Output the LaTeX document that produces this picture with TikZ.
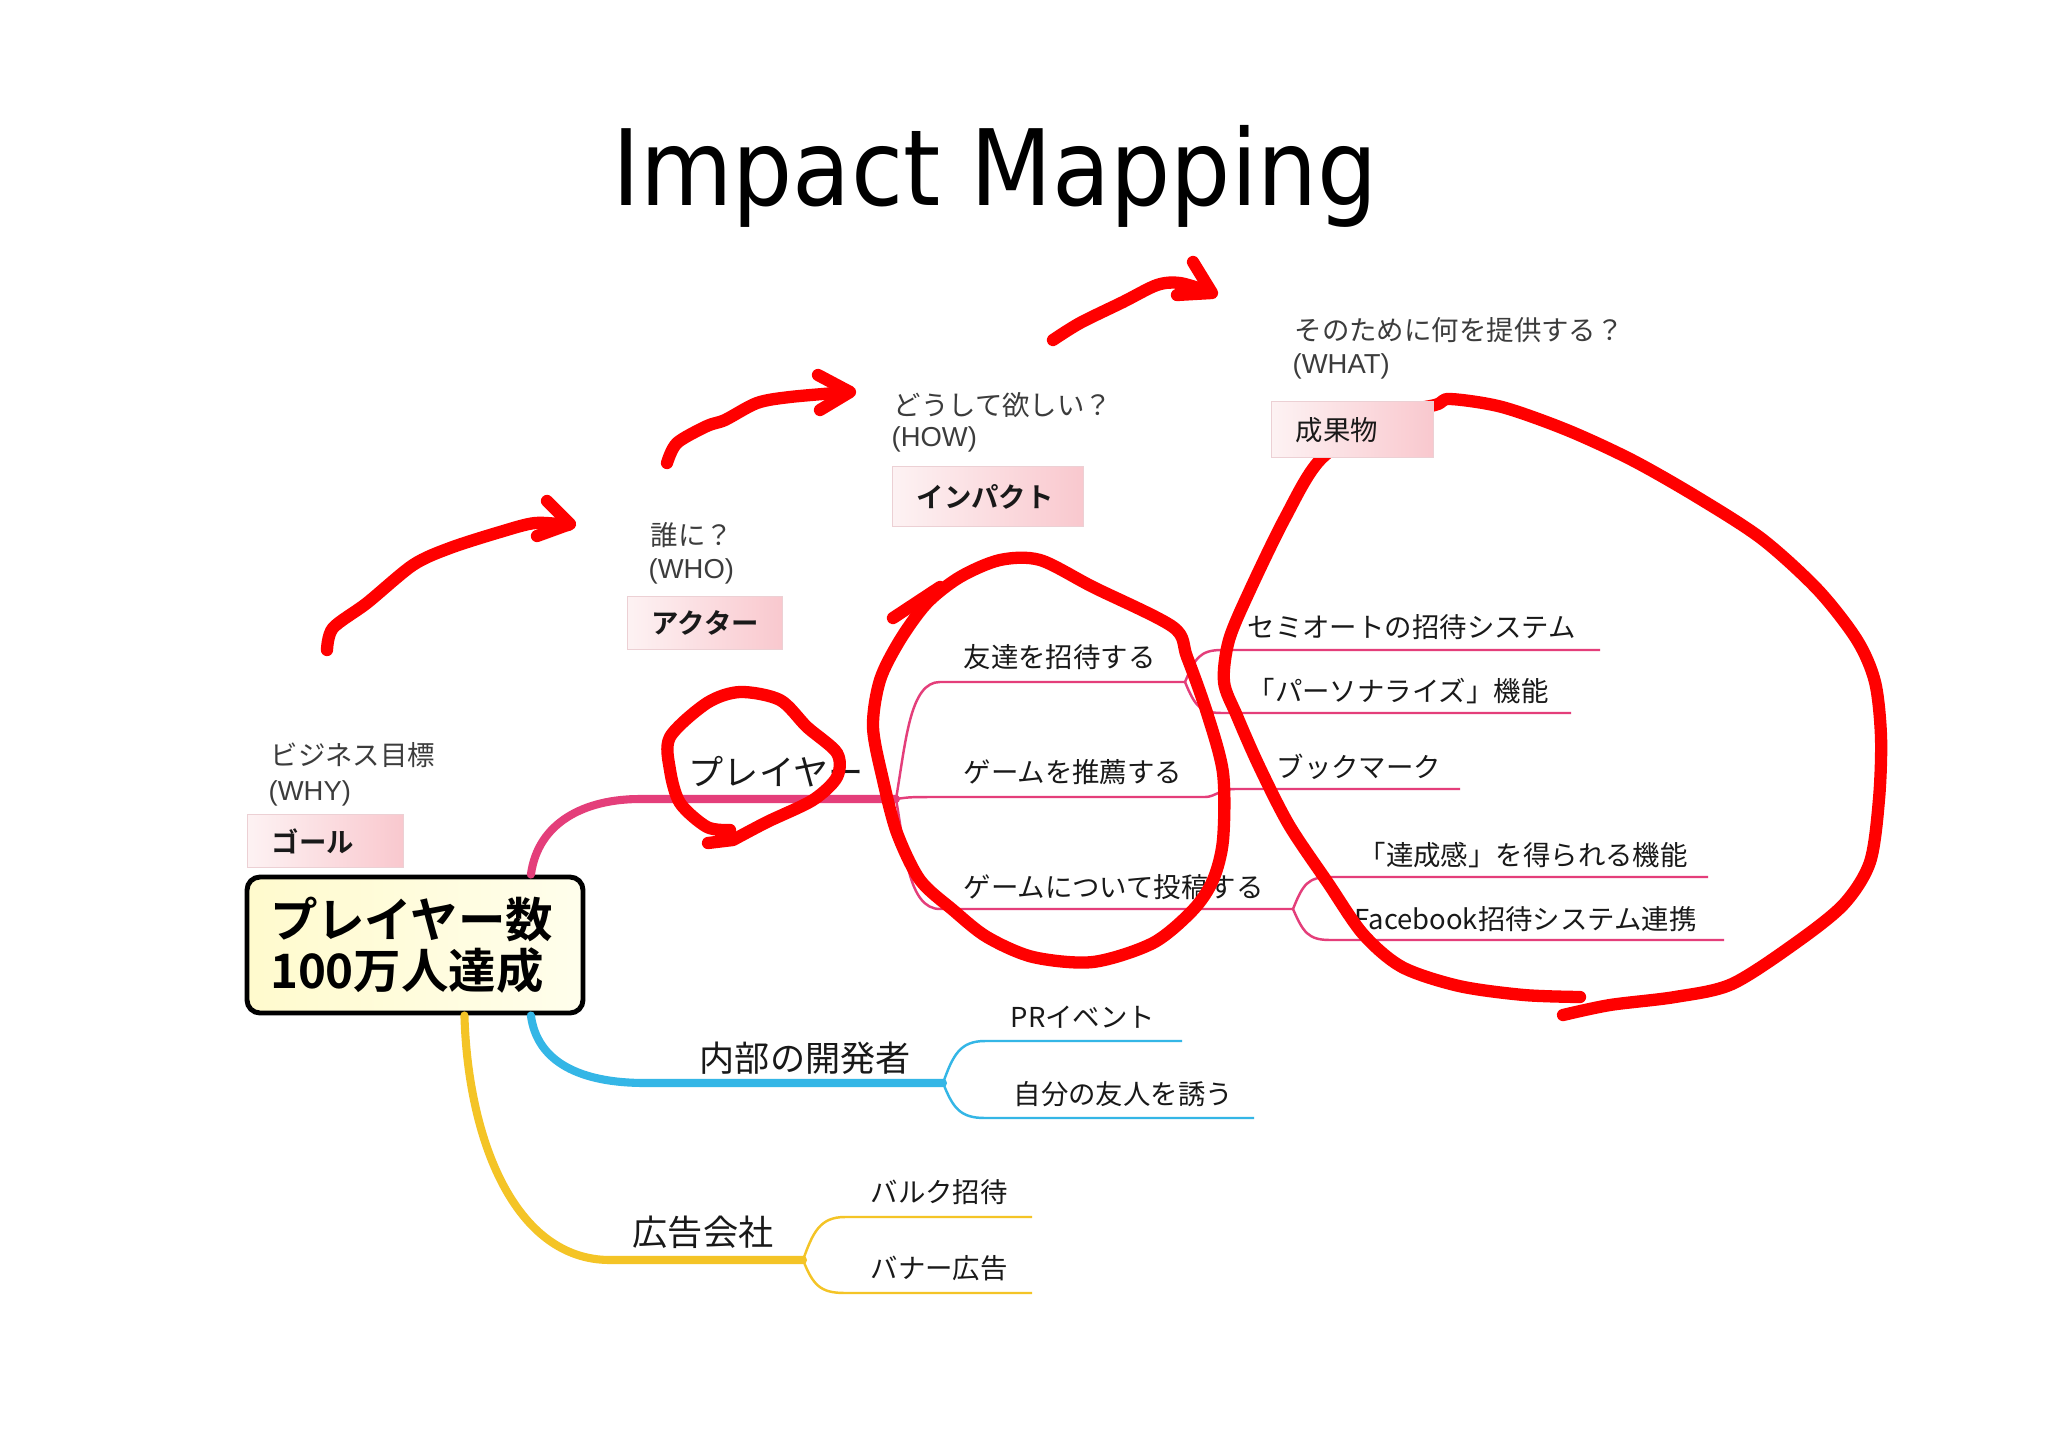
\documentclass[tikz,border=0pt]{standalone}
\usepackage{fontspec}
\usepackage{graphicx}
\setmainfont{Noto Sans CJK JP}[BoldFont={Noto Sans CJK JP Bold}]
\newfontfamily\titlefont{DejaVu Sans}
\newfontfamily\latinfont{Liberation Sans}
\usetikzlibrary{calc}

\definecolor{penred}{RGB}{255,0,0}
\definecolor{brpink}{RGB}{228,62,122}
\definecolor{brblue}{RGB}{52,182,230}
\definecolor{bryellow}{RGB}{244,196,38}
\definecolor{boxpink}{RGB}{249,200,206}
\definecolor{boxlight}{RGB}{253,242,243}
\definecolor{boxedge}{RGB}{236,208,212}
\definecolor{inkgray}{RGB}{25,25,25}
\definecolor{headgray}{RGB}{60,60,60}
\definecolor{creamleft}{RGB}{255,250,205}
\definecolor{creamright}{RGB}{255,254,236}

\tikzset{
  redpen/.style={draw=penred, line width=3.5pt, line cap=round, line join=round},
  pinkmain/.style={draw=brpink, line width=2.3pt, line cap=round},
  pinkleaf/.style={draw=brpink, line width=0.7pt},
  bluemain/.style={draw=brblue, line width=2.3pt, line cap=round},
  blueleaf/.style={draw=brblue, line width=0.7pt},
  yellowmain/.style={draw=bryellow, line width=2.3pt, line cap=round},
  yellowleaf/.style={draw=bryellow, line width=0.7pt},
  leaf/.style={anchor=west, inner sep=0pt, text=inkgray, font=\fontsize{7.8}{9}\selectfont},
  branchlbl/.style={anchor=west, inner sep=0pt, text=inkgray, font=\fontsize{10}{12}\selectfont},
  headq/.style={anchor=west, inner sep=0pt, text=headgray, font=\fontsize{7.8}{9}\selectfont},
  heade/.style={anchor=west, inner sep=0pt, text=headgray, font=\latinfont\fontsize{7.8}{9}\selectfont},
  catbox/.style={draw=boxedge, left color=boxlight, right color=boxpink, anchor=north west,
    inner xsep=2.4mm, inner ysep=0pt, align=left, text=inkgray, font=\bfseries\fontsize{7.8}{9}\selectfont},
  targetbox/.style={draw=black, line width=1.4pt, rounded corners=1.3mm, left color=creamleft,
    right color=creamright, minimum width=33.6mm, minimum height=13.6mm, inner xsep=2.3mm,
    text width=29mm, align=left, font=\bfseries\fontsize{13.5}{14.6}\selectfont}
}

\begin{document}
\begin{tikzpicture}[x=0.1mm,y=-0.1mm]
  \fill[white] (0,0) rectangle (2048,1448);
  \useasboundingbox (0,0) rectangle (2048,1448);
  \node[font=\titlefont\fontsize{30}{36}\selectfont, anchor=base] (title) at (995,205) {\scalebox{0.9}[1]{Impact Mapping}};

  \node[targetbox] (target) at (415,945) {プレイヤー数\\100万人達成};

  \coordinate (pfork) at (896,799);
  \coordinate (invite-fork) at (1185,682);
  \coordinate (post-fork) at (1293,909);
  \coordinate (semiauto-end) at (1600,650);
  \coordinate (personal-end) at (1571,713);
  \coordinate (bookmark-end) at (1460,789);
  \coordinate (achieve-end) at (1708,877);
  \coordinate (fbsys-end) at (1724,940);
  \coordinate (dfork) at (943,1083);
  \coordinate (prevent-end) at (1182,1041);
  \coordinate (friend-end) at (1254,1118);
  \coordinate (afork) at (803,1260);
  \coordinate (bulk-end) at (1032,1217);
  \coordinate (banner-end) at (1032,1293);

  \draw[pinkmain] ($(target.north west)!0.84!(target.north east)$) .. controls (538,822) and (585,799) .. (640,799) -- (pfork);
  \draw[pinkleaf] (pfork) .. controls (906,740) and (910,682) .. (940,682) -- (invite-fork);
  \draw[pinkleaf] (pfork) .. controls (910,797) .. (940,797) -- (1205,797) .. controls (1215,797) and (1220,789) .. (1235,789) -- (bookmark-end);
  \draw[pinkleaf] (pfork) .. controls (905,850) and (908,909) .. (940,909) -- (post-fork);
  \draw[pinkleaf] (invite-fork) .. controls (1195,658) and (1200,650) .. (1222,650) -- (semiauto-end);
  \draw[pinkleaf] (invite-fork) .. controls (1195,706) and (1200,713) .. (1222,713) -- (personal-end);
  \draw[pinkleaf] (post-fork) .. controls (1303,884) and (1308,877) .. (1330,877) -- (achieve-end);
  \draw[pinkleaf] (post-fork) .. controls (1303,932) and (1308,940) .. (1330,940) -- (fbsys-end);

  \draw[bluemain] ($(target.south west)!0.84!(target.south east)$) .. controls (537,1062) and (580,1083) .. (645,1083) -- (dfork);
  \draw[blueleaf] (dfork) .. controls (953,1055) and (960,1041) .. (985,1041) -- (prevent-end);
  \draw[blueleaf] (dfork) .. controls (953,1108) and (960,1118) .. (985,1118) -- (friend-end);

  \draw[yellowmain] ($(target.south west)!0.645!(target.south east)$) .. controls (468,1140) and (515,1260) .. (610,1260) -- (afork);
  \draw[yellowleaf] (afork) .. controls (813,1232) and (820,1217) .. (845,1217) -- (bulk-end);
  \draw[yellowleaf] (afork) .. controls (813,1285) and (820,1293) .. (845,1293) -- (banner-end);

  \node[branchlbl] (player) at (688,772) {プレイヤー};
  \node[branchlbl] (devs) at (699,1058) {内部の開発者};
  \node[branchlbl] (adco) at (632,1232) {広告会社};

  \node[leaf] (invite) at (963,657) {友達を招待する};
  \node[leaf] (recommend) at (963,772) {ゲームを推薦する};
  \node[leaf] (post) at (963,887) {ゲームについて投稿する};
  \node[leaf] (semiauto) at (1247,627) {セミオートの招待システム};
  \node[leaf] (personal) at (1247,691) {「パーソナライズ」機能};
  \node[leaf] (bookmark) at (1276,767) {ブックマーク};
  \node[leaf] (achieve) at (1358,855) {「達成感」を得られる機能};
  \node[leaf] (fbsys) at (1354,919) {Facebook招待システム連携};
  \node[leaf] (prevent) at (1010,1017) {PRイベント};
  \node[leaf] (friend) at (1013,1094) {自分の友人を誘う};
  \node[leaf] (bulk) at (870,1192) {バルク招待};
  \node[leaf] (banner) at (870,1268) {バナー広告};

  \draw[redpen] plot[smooth] coordinates {(327,650) (333,628) (367,603) (413,565) (450,548) (500,532) (535,523) (568,525)};
  \draw[redpen] (547,501) -- (570,524) -- (537,536);
  \draw[redpen] plot[smooth] coordinates {(667,463) (677,443) (707,426) (725,420) (757,403) (790,397) (848,392)};
  \draw[redpen] (818,375) -- (850,392) -- (820,410);
  \draw[redpen] plot[smooth] coordinates {(1053,340) (1080,323) (1123,302) (1157,285) (1180,283) (1210,292)};
  \draw[redpen] (1193,262) -- (1212,293) -- (1177,295);

  \draw[redpen] (708,843) -- (733,840) plot[smooth] coordinates {(733,840) (767,822) (813,800) (837,777) (837,753) (807,727) (780,700) (740,692) (707,703) (670,737) (670,770) (680,803) (707,827) (730,830)};

  \draw[redpen] (893,618) -- (940,587);
  \draw[redpen] plot[smooth cycle] coordinates {(960,577) (1000,560) (1040,560) (1093,587) (1173,627) (1187,657) (1207,713) (1223,773) (1223,840) (1213,880) (1193,910) (1153,943) (1093,962) (1033,957) (987,937) (953,910) (920,880) (897,833) (883,780) (873,727) (880,680) (900,640) (927,603)};

  \draw[redpen] plot[smooth] coordinates {(1580,997) (1524,995) (1459,986) (1402,967) (1363,934) (1328,883) (1289,825) (1259,766) (1237,716) (1224,682) (1229,640) (1250,590) (1285,518) (1320,460) (1380,418) (1435,405) (1450,399) (1502,407) (1567,430) (1632,460) (1697,497) (1762,539) (1818,590) (1857,640) (1875,682) (1881,737) (1879,799) (1870,862) (1844,904) (1797,942) (1732,984) (1675,997) (1610,1005) (1563,1015)};

  \node[headq] (why-q) at (270,755) {ビジネス目標};
  \node[heade] (why-en) at (268,793) {(WHY)};
  \node[catbox, minimum width=15.6mm, minimum height=5.3mm, text width=10.8mm] (why-box) at (247,814) {ゴール};
  \node[headq] (who-q) at (650,535) {誰に？};
  \node[heade] (who-en) at (648,571) {(WHO)};
  \node[catbox, minimum width=15.5mm, minimum height=5.3mm, text width=10.7mm] (who-box) at (627,596) {アクター};
  \node[headq] (how-q) at (893,405) {どうして欲しい？};
  \node[heade] (how-en) at (891,439) {(HOW)};
  \node[catbox, minimum width=19.1mm, minimum height=6mm, text width=14.3mm] (how-box) at (892,466) {インパクト};
  \node[headq] (what-q) at (1294,330) {そのために何を提供する？};
  \node[heade] (what-en) at (1292,366) {(WHAT)};
  \node[catbox, minimum width=16.2mm, minimum height=5.6mm, text width=11.4mm, font=\fontsize{7.8}{9}\selectfont] (what-box) at (1271,401) {成果物};
\end{tikzpicture}
\end{document}
